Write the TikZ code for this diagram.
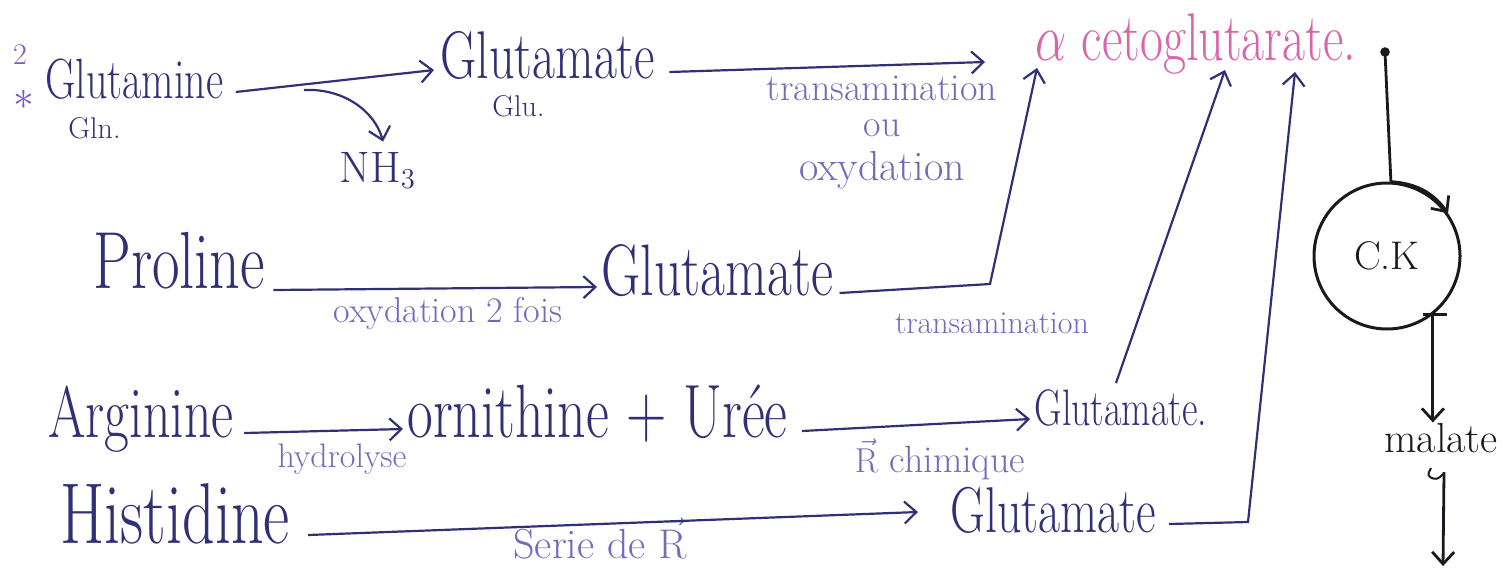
\documentclass[tikz,border=0pt]{standalone}
\usepackage{amsmath}
\usepackage{graphicx}
\usetikzlibrary{arrows.meta,calc,positioning}
\definecolor{inkblue}{RGB}{50,48,116}
\definecolor{inklight}{RGB}{116,106,186}
\definecolor{inkpink}{RGB}{216,100,172}
\definecolor{inkpurple}{RGB}{124,88,200}
\definecolor{inkblack}{RGB}{26,26,30}
\newcommand{\hand}[1]{\scalebox{1}[1.35]{#1}}

\begin{document}
\begin{tikzpicture}[x=0.5pt,y=-0.5pt,>={Straight Barb[length=6pt,width=11pt]},
  word/.style={text=inkblue,inner sep=0pt,anchor=base west,font=\fontsize{26}{28}\selectfont},
  note/.style={text=inklight,inner sep=0pt,anchor=base,font=\fontsize{18}{20}\selectfont},
  tiny/.style={text=inkblue,inner sep=0pt,anchor=base west,font=\fontsize{15}{17}\selectfont},
  link/.style={draw=inkblue,line width=1.1pt,->},
  blk/.style={draw=inkblack,line width=1.4pt}]
 \useasboundingbox (0,0) rectangle (1509,569);

 % amino acids
 \node[word,font=\fontsize{21}{24}\selectfont] (glutamine) at (45,98) {\hand{Glutamine}};
 \node[word,font=\fontsize{30}{32}\selectfont] (proline) at (93,288) {\hand{Proline}};
 \node[word,font=\fontsize{27}{30}\selectfont] (arginine) at (48,437) {\hand{Arginine}};
 \node[word,font=\fontsize{32}{34}\selectfont] (histidine) at (60,543) {\hand{Histidine}};
 \node[tiny,text=inkpurple,anchor=base] (num) at (20,64) {2};
 \node[text=inkpurple,inner sep=0pt,font=\fontsize{22}{24}\selectfont] (star) at (24,100) {$\ast$};
 \node[tiny] (gln) at (68,138) {Gln.};
 \node[word,anchor=base,font=\fontsize{22}{24}\selectfont] (nh3) at (378,182) {NH$_3$};

 % products
 \node[word,font=\fontsize{25}{28}\selectfont] (glutamate1) at (440,78) {\hand{Glutamate}};
 \node[tiny] (glu) at (492,116) {Glu.};
 \node[word,font=\fontsize{27}{30}\selectfont] (glutamate2) at (601,295) {\hand{Glutamate}};
 \node[word,font=\fontsize{28}{30}\selectfont] (ornithine) at (407,437) {\hand{ornithine + Urée}};
 \node[word,font=\fontsize{19}{22}\selectfont] (glutamate3) at (1034,425) {\hand{Glutamate.}};
 \node[word,font=\fontsize{24}{26}\selectfont] (glutamate4) at (950,532) {\hand{Glutamate}};
 \node[word,text=inkpink,font=\fontsize{25}{28}\selectfont] (acg) at (1035,60) {\hand{$\alpha$ cetoglutarate.}};

 % reaction notes
 \node[note,font=\fontsize{19}{21}\selectfont] (trans1) at (882,100) {transamination};
 \node[note,font=\fontsize{19}{21}\selectfont] (ou) at (882,136) {ou};
 \node[note,font=\fontsize{21}{23}\selectfont] (oxy1) at (882,180) {oxydation};
 \node[note] (oxy2) at (448,322) {oxydation 2 fois};
 \node[note,font=\fontsize{16}{18}\selectfont] (trans2) at (992,333) {transamination};
 \node[note,font=\fontsize{17}{19}\selectfont] (hydro) at (342,467) {hydrolyse};
 \node[note,font=\fontsize{19}{21}\selectfont] (chim) at (940,472) {$\vec{\mathrm{R}}$ chimique};
 \node[note,font=\fontsize{21}{23}\selectfont] (serie) at (600,558) {Serie de $\vec{\mathrm{R}}$};

 % Krebs cycle
 \node[circle,draw=inkblack,line width=1.5pt,minimum size=73pt,inner sep=0pt,
   text=inkblack,font=\fontsize{20}{22}\selectfont] (ck) at (1387,256) {C.K};
 \node[word,anchor=base,text=inkblack,font=\fontsize{21}{24}\selectfont] (malate) at (1441,452) {malate};
 \coordinate (dot) at (1385,52);
 \coordinate (mend) at (1443,566);
 \coordinate (c2) at (990,284);
 \coordinate (c4) at (1248,522);

 % reactions
 \draw[link] ($(glutamine.base east)+(12,-6)$) -- ($(glutamate1.base west)+(-6,-8)$);
 \draw[link] ($(glutamine.base east)+(80,-8)$) .. controls +(40,-2) and +(-8,-30) .. ($(nh3.north)+(5,-10)$);
 \draw[link] ($(glutamate1.base east)+(14,-6)$) -- ($(acg.base west)+(-50,2)$);
 \draw[link] ($(proline.base east)+(8,2)$) -- ($(glutamate2.base west)+(-4,-8)$);
 \draw[link] ($(glutamate2.base east)+(6,-2)$) -- (c2) -- ($(acg.base west)+(2,8)$);
 \draw[link] ($(arginine.base east)+(10,-4)$) -- ($(ornithine.base west)+(-4,-8)$);
 \draw[link] ($(ornithine.base east)+(14,-6)$) -- ($(glutamate3.base west)+(-4,-6)$);
 \draw[link] ($(glutamate3.base west)+(82,-42)$) -- ($(acg.base west)+(190,10)$);
 \draw[link] ($(histidine.base east)+(18,-8)$) -- ($(glutamate4.base west)+(-32,-20)$);
 \draw[link] ($(glutamate4.base east)+(12,-8)$) -- (c4) -- ($(acg.base west)+(260,12)$);

 % into and out of the cycle
 \fill[inkblack] (dot) circle (2.4pt);
 \draw[blk] (dot) -- (ck.87);
 \draw[blk,->] (ck.87) to[bend left=25] (ck.35);
 \draw[blk] ($(ck.-52)+(-10,0)$) -- ($(ck.-52)+(14,0)$);
 \draw[blk,->] (ck.-52) -- (ck.-52 |- malate.north);
 \draw[blk,line width=1pt,rounded corners=2pt] ($(malate.base)+(-10,16)$) -- ($(malate.base)+(-14,24)$)
   -- ($(malate.base)+(-4,28)$) -- ($(malate.base)+(2,22)$);
 \draw[blk,->] ($(malate.base)+(3,20)$) -- (mend);
\end{tikzpicture}
\end{document}
